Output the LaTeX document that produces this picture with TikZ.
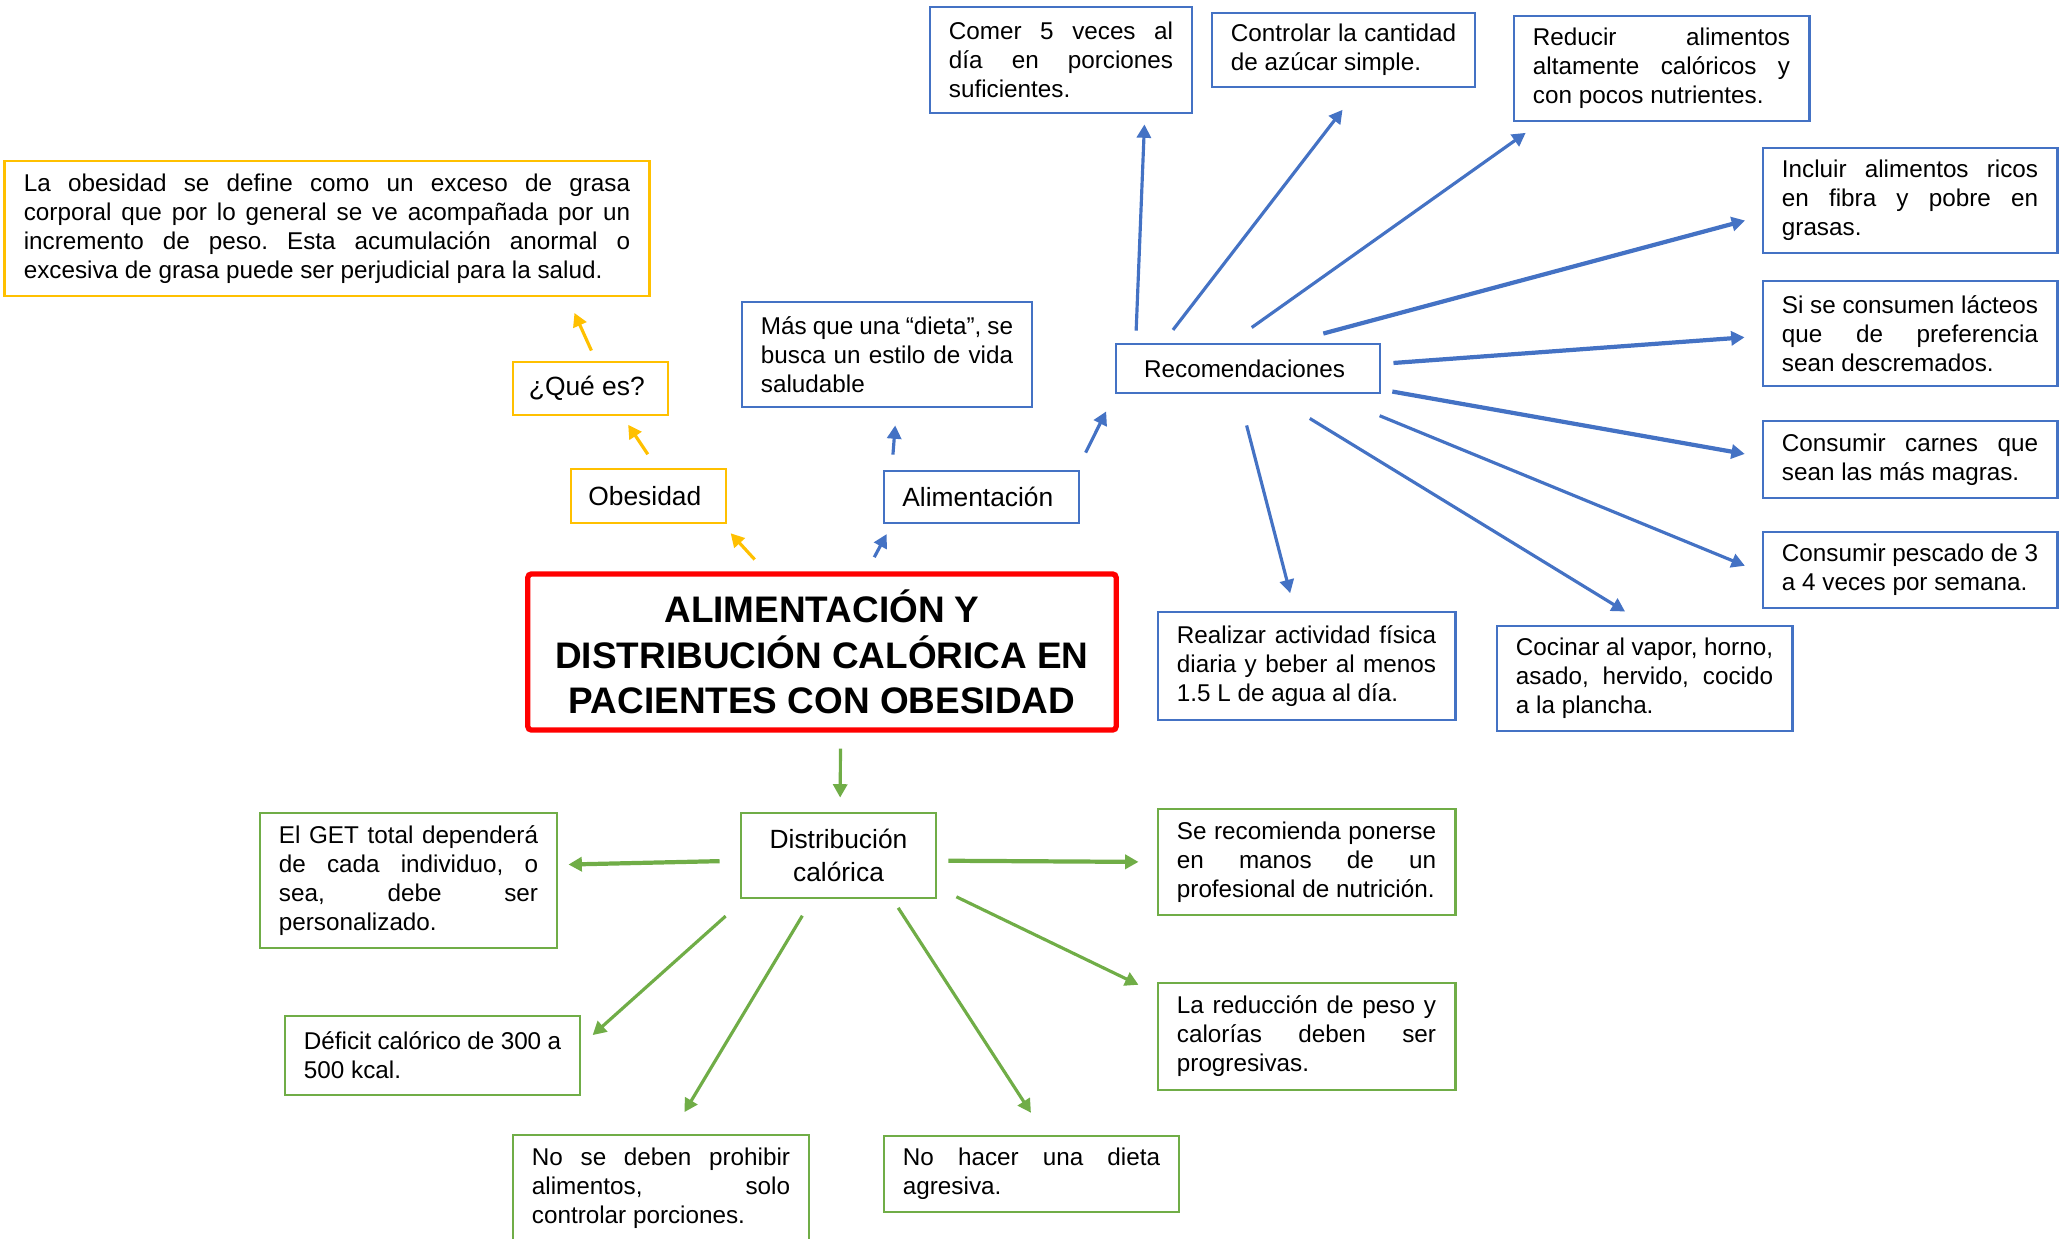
\documentclass[tikz,border=0pt]{standalone}
\usepackage{fontspec}
\setmainfont{Liberation Sans}
\usetikzlibrary{positioning, arrows.meta}
\frenchspacing

\definecolor{amarillo}{HTML}{FFC000}
\definecolor{azul}{HTML}{4472C4}
\definecolor{verde}{HTML}{70AD47}
\definecolor{rojo}{HTML}{FF0000}

\begin{document}
\begin{tikzpicture}[x = 0.01cm, y = -0.01cm,
    every node/.style = { font = \fontsize{6.9}{8.25}\selectfont, inner xsep = 0.19cm, inner ysep = 2pt },
    caja/.style = { draw, line width = 0.8pt, align = justify },
    etiqueta/.style = { draw, line width = 0.8pt, align = center, inner xsep = 0.1cm, font = \fontsize{7.5}{9.3}\selectfont },
    flecha/.style = { -{Triangle[length = 3.8pt, width = 4pt]}, line width = 0.9pt }
  ]
  \useasboundingbox (0,0) rectangle (2059,1239);

  \node [draw = rojo, line width = 1.5pt, rounded corners = 1pt, align = center,
         minimum width = 5.88cm, minimum height = 1.56cm,
         font = \fontsize{10.5}{12.9}\selectfont\bfseries] (title) at (822,652)
    { ALIMENTACIÓN Y \\ DISTRIBUCIÓN CALÓRICA EN \\ PACIENTES CON OBESIDAD };

  % obesidad
  \node [etiqueta, draw = amarillo, minimum width = 1.55cm, minimum height = 0.54cm] (obes) at (648.5,496) { Obesidad };
  \node [etiqueta, draw = amarillo, minimum width = 1.55cm, minimum height = 0.53cm] (quees) at (590.5,388.5) { ¿Qué es? };
  \node [caja, draw = amarillo, text width = 6.06cm, minimum height = 1.35cm] (defn) at (327,228.5)
    { La obesidad se define como un exceso de grasa \linebreak corporal que por lo general se ve acompañada por un \linebreak incremento de peso. Esta acumulación anormal o \linebreak excesiva de grasa puede ser perjudicial para la salud. };

  % alimentacion
  \node [etiqueta, draw = azul, minimum width = 1.95cm, minimum height = 0.52cm] (alim) at (981.5,497) { Alimentación };
  \node [caja, draw = azul, text width = 2.52cm, minimum height = 1.05cm] (mas) at (887,354.5)
    { Más que una “dieta”, se \linebreak busca un estilo de vida \linebreak saludable };
  \node [etiqueta, draw = azul, font = \fontsize{6.9}{8.25}\selectfont, minimum width = 2.64cm, minimum height = 0.49cm] (rec) at (1248,368.5) { Recomendaciones };
  \node [caja, draw = azul, text width = 2.24cm, minimum height = 1.06cm] (comer) at (1061,60)
    { Comer 5 veces al \linebreak día en porciones \linebreak suficientes. };
  \node [caja, draw = azul, text width = 2.25cm, minimum height = 0.74cm] (contr) at (1343.5,50)
    { Controlar la cantidad \linebreak de azúcar simple. };
  \node [caja, draw = azul, text width = 2.57cm, minimum height = 1.05cm] (reduc) at (1661.5,68.5)
    { Reducir alimentos \linebreak altamente calóricos y \linebreak con pocos nutrientes. };
  \node [caja, draw = azul, text width = 2.56cm, minimum height = 1.05cm] (incl) at (1910,200.5)
    { Incluir alimentos ricos \linebreak en fibra y pobre en \linebreak grasas. };
  \node [caja, draw = azul, text width = 2.56cm, minimum height = 1.05cm] (lact) at (1910,333.5)
    { Si se consumen lácteos \linebreak que de preferencia \linebreak sean descremados. };
  \node [caja, draw = azul, text width = 2.56cm, minimum height = 0.77cm] (carn) at (1910,459.5)
    { Consumir carnes que \linebreak sean las más magras. };
  \node [caja, draw = azul, text width = 2.56cm, minimum height = 0.76cm] (pesc) at (1910,570)
    { Consumir pescado de 3 \linebreak a 4 veces por semana. };
  \node [caja, draw = azul, text width = 2.57cm, minimum height = 1.05cm] (cocin) at (1644.5,678.5)
    { Cocinar al vapor, horno, \linebreak asado, hervido, cocido \linebreak a la plancha. };
  \node [caja, draw = azul, text width = 2.59cm, minimum height = 1.08cm] (realiz) at (1306.5,666)
    { Realizar actividad física \linebreak diaria y beber al menos \linebreak 1.5 L de agua al día. };

  % distribucion
  \node [etiqueta, draw = verde, minimum width = 1.95cm, minimum height = 0.85cm] (dist) at (838.5,855.5) { Distribución \\ calórica };
  \node [caja, draw = verde, text width = 2.59cm, minimum height = 1.35cm] (get) at (408.5,880.5)
    { El GET total dependerá \linebreak de cada individuo, o \linebreak sea, debe ser \linebreak personalizado. };
  \node [caja, draw = verde, text width = 2.57cm, minimum height = 0.79cm] (defic) at (432.5,1055.5)
    { Déficit calórico de 300 a \linebreak 500 kcal. };
  \node [caja, draw = verde, text width = 2.58cm, minimum height = 1.06cm] (prohib) at (661,1188)
    { No se deben prohibir \linebreak alimentos, solo \linebreak controlar porciones. };
  \node [caja, draw = verde, text width = 2.57cm, minimum height = 0.76cm] (nohac) at (1031.5,1174)
    { No hacer una dieta \linebreak agresiva. };
  \node [caja, draw = verde, text width = 2.59cm, minimum height = 1.06cm] (serec) at (1306.5,862)
    { Se recomienda ponerse \linebreak en manos de un \linebreak profesional de nutrición. };
  \node [caja, draw = verde, text width = 2.59cm, minimum height = 1.07cm] (reduc2) at (1306.5,1036.5)
    { La reducción de peso y \linebreak calorías deben ser \linebreak progresivas. };

  \draw [flecha, amarillo, shorten <= 0.16cm, shorten >= 0.12cm] (title.125.7) -- (obes.-21);
  \draw [flecha, amarillo, shorten <= 0.16cm, shorten >= 0.10cm] (obes.74.5) -- (quees.-41.9);
  \draw [flecha, amarillo, shorten <= 0.11cm, shorten >= 0.17cm] (quees.79.3) -- (defn.-16.2);

  \draw [flecha, azul, shorten <= 0.16cm, shorten >= 0.11cm] (title.61.7) -- (alim.197.8);
  \draw [flecha, azul, shorten <= 0.15cm, shorten >= 0.17cm] (alim.163.1) -- (mas.-80.3);
  \draw [flecha, azul, shorten <= 0.19cm, shorten >= 0.19cm] (alim.16.7) -- (rec.191.4);
  \draw [flecha, azul, shorten <= 0.12cm, shorten >= 0.10cm] (rec.167.5) -- (comer.-33.9);
  \draw [flecha, azul, shorten <= 0.16cm, shorten >= 0.27cm] (rec.163.2) -- (contr.-68.6);
  \draw [flecha, azul, shorten <= 0.26cm, shorten >= 0.18cm] (rec.124.8) -- (reduc.204.1);
  \draw [flecha, azul, line width = 1.2pt, shorten <= 0.35cm, shorten >= 0.17cm] (rec.32.1) -- (incl.186);
  \draw [flecha, azul, line width = 1.2pt, shorten <= 0.12cm, shorten >= 0.17cm] (rec.2.8) -- (lact.181.75);
  \draw [flecha, azul, line width = 1.2pt, shorten <= 0.11cm, shorten >= 0.17cm] (rec.-9.67) -- (carn.179);
  \draw [flecha, azul, shorten <= 0.56cm, shorten >= 0.18cm] (rec.-18.3) -- (pesc.181.2);
  \draw [flecha, azul, shorten <= 0.46cm, shorten >= 0.25cm] (rec.-49.4) -- (cocin.88.4);
  \draw [flecha, azul, shorten <= 0.32cm, shorten >= 0.18cm] (rec.-110.2) -- (realiz.102);

  \draw [flecha, verde, shorten <= 0.16cm, shorten >= 0.14cm] (title.-77) -- (dist.88);
  \draw [flecha, verde, line width = 1.2pt, shorten <= 0.20cm, shorten >= 0.10cm] (dist.183.2) -- (get.6.3);
  \draw [flecha, verde, line width = 1.2pt, shorten <= 0.11cm, shorten >= 0.18cm] (dist.-3.2) -- (serec.180.4);
  \draw [flecha, verde, shorten <= 0.21cm, shorten >= 0.20cm] (dist.-18.4) -- (reduc2.164.7);
  \draw [flecha, verde, shorten <= 0.25cm, shorten >= 0.15cm] (dist.205.9) -- (defic.4.5);
  \draw [flecha, verde, shorten <= 0.19cm, shorten >= 0.25cm] (dist.-121) -- (prohib.79.2);
  \draw [flecha, verde, shorten <= 0.10cm, shorten >= 0.26cm] (dist.-39.5) -- (nohac.71.8);
\end{tikzpicture}
\end{document}
